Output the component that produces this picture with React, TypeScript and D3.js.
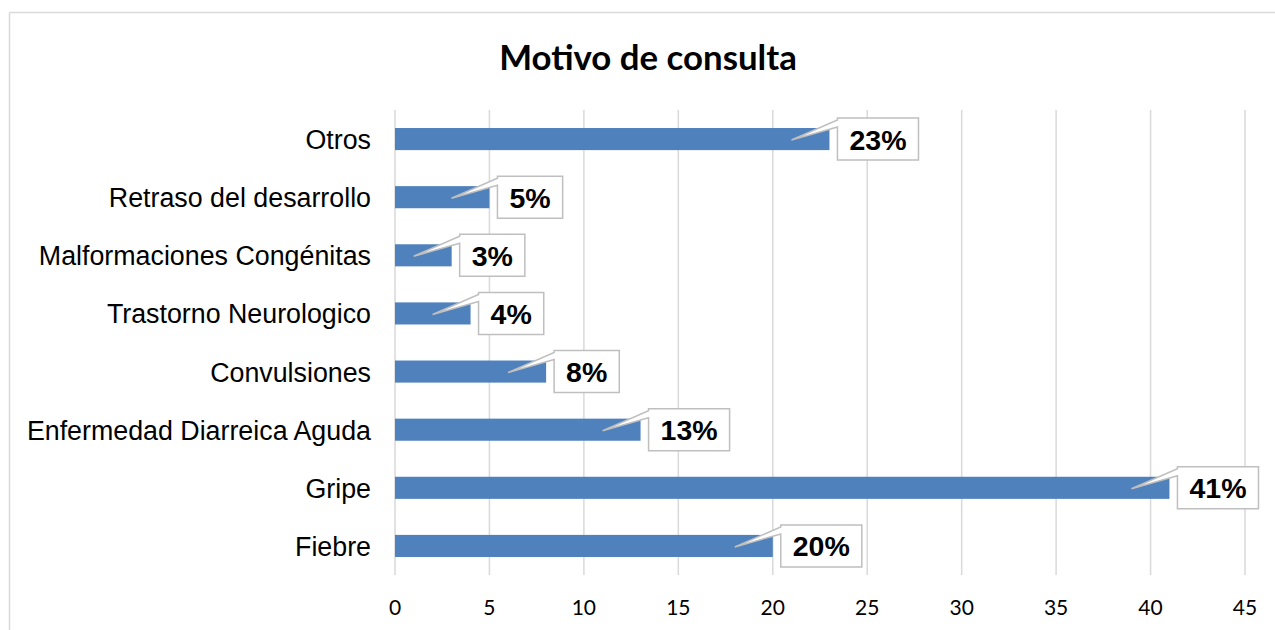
import React from "react";
import * as d3 from "d3";

const categories = [
  "Otros",
  "Retraso del desarrollo",
  "Malformaciones Congénitas",
  "Trastorno Neurologico",
  "Convulsiones",
  "Enfermedad Diarreica Aguda",
  "Gripe",
  "Fiebre",
];
const values = [23, 5, 3, 4, 8, 13, 41, 20];
const labels = ["23%", "5%", "3%", "4%", "8%", "13%", "41%", "20%"];
const xTicks = [0, 5, 10, 15, 20, 25, 30, 35, 40, 45];

const W = 1275;
const H = 630;

function textWidth(s: string, font: string): number {
  const c = document.createElement("canvas").getContext("2d");
  if (!c) return s.length * 15;
  c.font = font;
  return c.measureText(s).width;
}

export default function App() {
  const x = d3.scaleLinear().domain([0, 45]).range([395, 1245]);
  const y = d3.scaleBand<string>().domain(categories).range([110, 575]).paddingInner(0.62).paddingOuter(0.31);
  const bh = y.bandwidth();
  const labelFont = "bold 28.5px 'Liberation Sans', Arial, sans-serif";

  return (
    <div style={{ position: "absolute", left: 0, top: 0 }}>
      <svg width={W} height={H} style={{ display: "block", background: "#fff" }}>
        <line x1={9.5} x2={W} y1={12.5} y2={12.5} stroke="#d9d9d9" strokeWidth={1.5} />
        <line x1={9.5} x2={9.5} y1={12.5} y2={H} stroke="#d9d9d9" strokeWidth={1.5} />
        <text
          x={648}
          y={70}
          textAnchor="middle"
          fontFamily="Lato, 'Open Sans', sans-serif"
          fontWeight="bold"
          fontSize={34.8}
          fill="#000"
        >
          Motivo de consulta
        </text>
        {xTicks.map((t) => (
          <g key={t}>
            <line x1={x(t)} x2={x(t)} y1={110} y2={575} stroke="#d9d9d9" strokeWidth={1.5} />
            <text
              x={x(t)}
              y={615}
              textAnchor="middle"
              fontFamily="Lato, 'Open Sans', sans-serif"
              fontSize={21}
              fill="#000"
            >
              {t}
            </text>
          </g>
        ))}
        {categories.map((c) => (
          <text
            key={c}
            x={371}
            y={(y(c) as number) + bh / 2 + 10}
            textAnchor="end"
            fontFamily="'Liberation Sans', Arial, sans-serif"
            fontSize={26.8}
            fill="#000"
          >
            {c}
          </text>
        ))}
        {categories.map((c, i) => (
          <rect
            key={c}
            x={x(0)}
            y={y(c) as number}
            width={x(values[i]) - x(0)}
            height={bh}
            fill="#4f81bd"
          />
        ))}
        {categories.map((c, i) => {
          const cy = (y(c) as number) + bh / 2;
          const xe = x(values[i]);
          const tw = textWidth(labels[i], labelFont);
          const bw = tw + 24;
          const bx = xe + 8;
          const by = cy - 21;
          const bhh = 42;
          const tipX = xe - 38;
          const tipY = cy + 1;
          const path = `M${bx},${by} L${bx + bw},${by} L${bx + bw},${by + bhh} L${bx},${by + bhh} L${bx},${by + 9} L${tipX},${tipY} L${bx},${by + 2} Z`;
          return (
            <g key={c}>
              <path d={path} fill="#fff" stroke="#bfbfbf" strokeWidth={1.5} strokeLinejoin="miter" />
              <text
                x={bx + bw / 2}
                y={cy + 10.5}
                textAnchor="middle"
                fontFamily="'Liberation Sans', Arial, sans-serif"
                fontWeight="bold"
                fontSize={28.5}
                fill="#000"
              >
                {labels[i]}
              </text>
            </g>
          );
        })}
      </svg>
    </div>
  );
}
